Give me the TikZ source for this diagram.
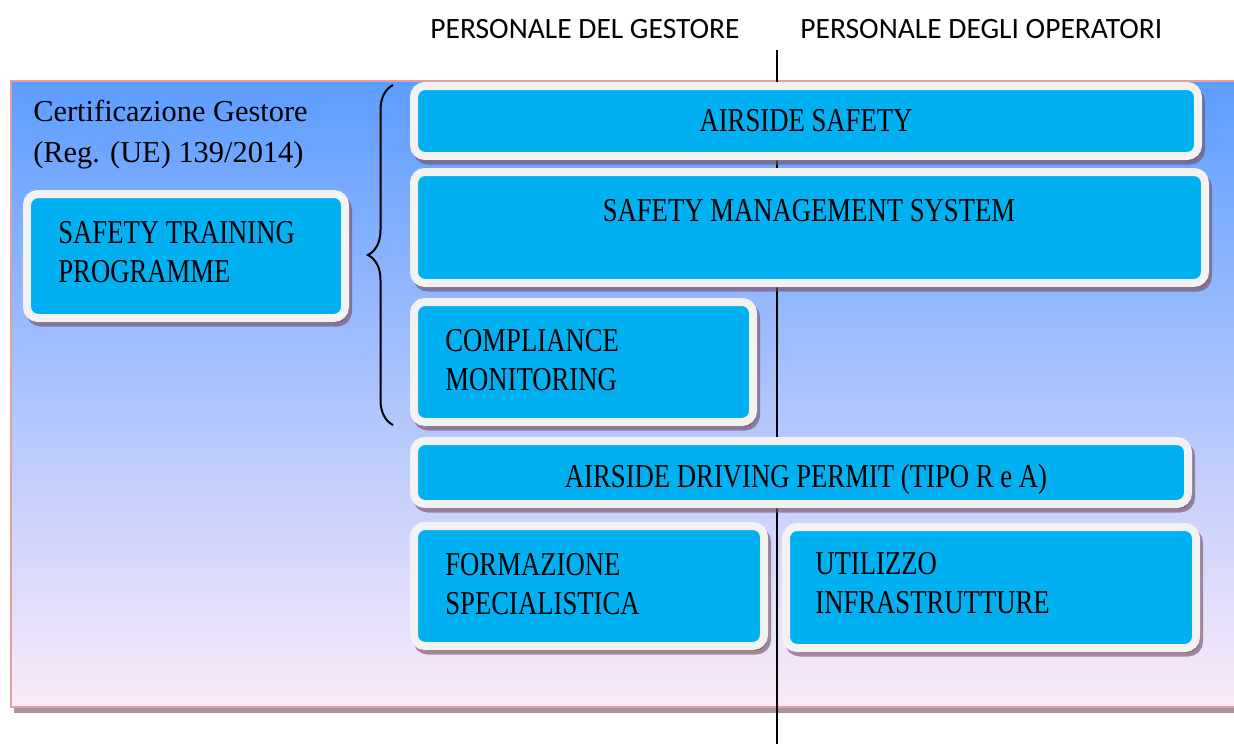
\documentclass[tikz,border=0pt]{standalone}
\usepackage{fontspec}
\setmainfont{Liberation Serif}
\newfontfamily\capsfont{Liberation Serif}[FakeStretch=0.8]
\newfontfamily\headfont{Carlito}
\usetikzlibrary{positioning, shadows, fit, calc}
\usetikzlibrary{decorations.pathreplacing}

\definecolor{boxblue}{RGB}{0,176,240}
\definecolor{boxrim}{RGB}{242,242,242}
\definecolor{shadowmauve}{RGB}{117,78,98}
\definecolor{bgtop}{RGB}{92,157,255}
\definecolor{bgmid}{RGB}{156,198,246}
\definecolor{bgbot}{RGB}{252,234,249}
\definecolor{bgrim}{RGB}{226,160,160}

\tikzset{
    panel/.style={draw=boxrim, line width=0.16cm, fill=boxblue,
        rounded corners=0.22cm, inner sep=0pt,
        drop shadow={shadow xshift=0.06cm, shadow yshift=-0.09cm,
            draw=shadowmauve, line width=0.16cm, fill=shadowmauve, opacity=0.62}},
    caps/.style={inner sep=0pt, align=left, font=\capsfont\fontsize{19}{22}\selectfont},
    head/.style={inner sep=0pt, font=\headfont\fontsize{16.8}{20}\selectfont},
}

\begin{document}
\begin{tikzpicture}[x=0.02cm, y=-0.02cm]

    \path[use as bounding box] (0,0) rectangle (1234,744);
    \clip (0,0) rectangle (1234,744);

    % background frame
    \draw[draw=bgrim, line width=0.04cm, top color=bgtop, middle color=bgmid, bottom color=bgbot,
        drop shadow={shadow xshift=0.06cm, shadow yshift=-0.12cm, fill=shadowmauve, opacity=0.62}]
        (11,81) rectangle (1240,707);

    % divider between the two groups of staff
    \coordinate (divtop) at (777,50);
    \coordinate (divbot) at (777,744);
    \draw[line width=0.04cm] (divtop) -- (divbot);

    % boxes
    \node[panel, fit={(414,86) (1198,156)}] (safety) {};
    \node[panel, fit={(414,172) (1205,283)}] (sms) {};
    \node[panel, fit={(27,194) (345,318)}] (stp) {};
    \node[panel, fit={(414,302) (753,422)}] (cm) {};
    \node[panel, fit={(414,441) (1188,504)}] (adp) {};
    \node[panel, fit={(414,526) (764,646)}] (fs) {};
    \node[panel, fit={(786,527) (1196,648)}] (ui) {};

    % brace
    \coordinate (bracetop) at (393,85);
    \coordinate (bracebot) at (393,425);
    \draw[decorate, decoration={brace, amplitude=0.5cm}, line width=0.04cm] (bracebot) -- (bracetop);

    % texts (base = last line)
    \node[head, anchor=base west] (gestore) at (430,38) {PERSONALE DEL GESTORE};
    \node[head, anchor=base west] (operatori) at (800,38) {PERSONALE DEGLI OPERATORI};

    \node[inner sep=0pt, align=left, anchor=base west, font=\fontsize{17.3}{23}\selectfont]
        (cert) at (33,162) {Certificazione Gestore\\(Reg. (UE) 139/2014)};

    \node[caps, anchor=base] (safetytext) at (806,131) {AIRSIDE SAFETY};
    \node[caps, anchor=base] (smstext) at (809,221) {SAFETY MANAGEMENT SYSTEM};
    \node[caps, anchor=base west] (stptext) at (58,282) {SAFETY TRAINING\\PROGRAMME};
    \node[caps, anchor=base west] (cmtext) at (445,390) {COMPLIANCE\\MONITORING};
    \node[caps, anchor=base] (adptext) at (806,487) {AIRSIDE DRIVING PERMIT (TIPO R e A)};
    \node[caps, anchor=base west] (fstext) at (445,614) {FORMAZIONE\\SPECIALISTICA};
    \node[caps, anchor=base west] (uitext) at (815,613) {UTILIZZO\\INFRASTRUTTURE};

\end{tikzpicture}
\end{document}
